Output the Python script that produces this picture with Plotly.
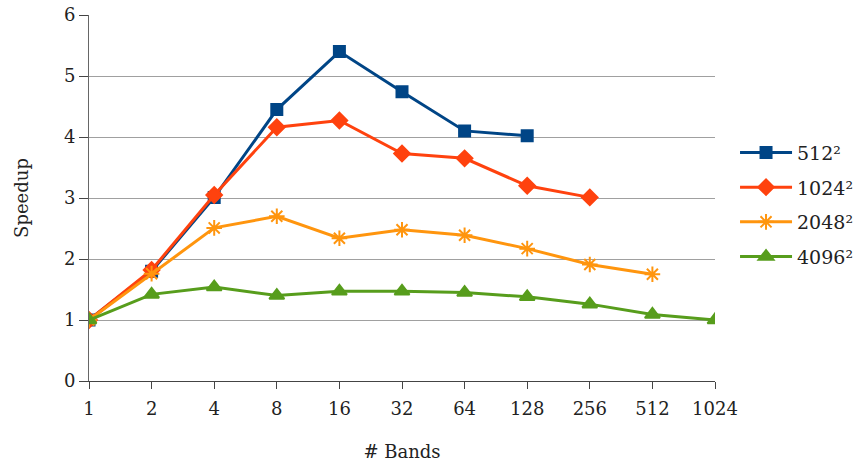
import plotly.graph_objects as go

bands = ["1", "2", "4", "8", "16", "32", "64", "128", "256", "512", "1024"]
s512 = [1.0, 1.80, 3.01, 4.45, 5.40, 4.74, 4.10, 4.02]
s1024 = [1.0, 1.82, 3.05, 4.16, 4.27, 3.73, 3.65, 3.20, 3.01]
s2048 = [1.0, 1.76, 2.51, 2.70, 2.34, 2.48, 2.39, 2.17, 1.91, 1.75]
s4096 = [1.0, 1.42, 1.54, 1.40, 1.47, 1.47, 1.45, 1.38, 1.26, 1.09, 1.0]
names = ["512²", "1024²", "2048²", "4096²"]
colors = ["#004586", "#ff420e", "#ff950e", "#579d1c"]
symbols = ["square", "diamond", "asterisk-open", "triangle-up"]
sizes = [11, 12, 13, 13]

FONT = "DejaVu Serif"

fig = go.Figure()
for name, vals, col, sym, sz in zip(names, [s512, s1024, s2048, s4096], colors, symbols, sizes):
    fig.add_trace(go.Scatter(
        x=bands[:len(vals)], y=vals, name=name, mode="lines+markers",
        legendgroup=name,
        line=dict(color=col, width=3),
        marker=dict(symbol=sym, size=sz, color=col, line=dict(color=col, width=2)),
    ))

fig.update_layout(
    width=859, height=469,
    margin=dict(l=89, r=144, t=15, b=88, autoexpand=False),
    paper_bgcolor="white", plot_bgcolor="white",
    font=dict(family=FONT, size=18, color="#222"),
    legend=dict(x=1.032, y=0.482, xanchor="left", yanchor="middle",
                font=dict(size=19, family=FONT), tracegroupgap=7,
                itemwidth=52, bgcolor="rgba(0,0,0,0)"),
    xaxis=dict(type="category", categoryorder="array", categoryarray=bands,
               range=[0, 10], showgrid=False, showline=True, linecolor="#444",
               linewidth=1, ticks="outside", ticklen=7, tickcolor="#444",
               ticklabelstandoff=4,
               title=dict(text="# Bands", standoff=27, font=dict(size=18)),
               zeroline=False, automargin=False, ticklabeloverflow="allow"),
    yaxis=dict(range=[0, 6], dtick=1, showgrid=True, gridcolor="#a0a0a0",
               gridwidth=1, showline=True, linecolor="#666", linewidth=1,
               ticks="outside", ticklen=9, tickcolor="#444",
               title=dict(text="Speedup", standoff=30, font=dict(size=18)),
               zeroline=False, automargin=False, ticklabeloverflow="allow"),
)

fig.write_html("out.html", config={"displayModeBar": False},
               post_script="document.body.style.margin='0';")
